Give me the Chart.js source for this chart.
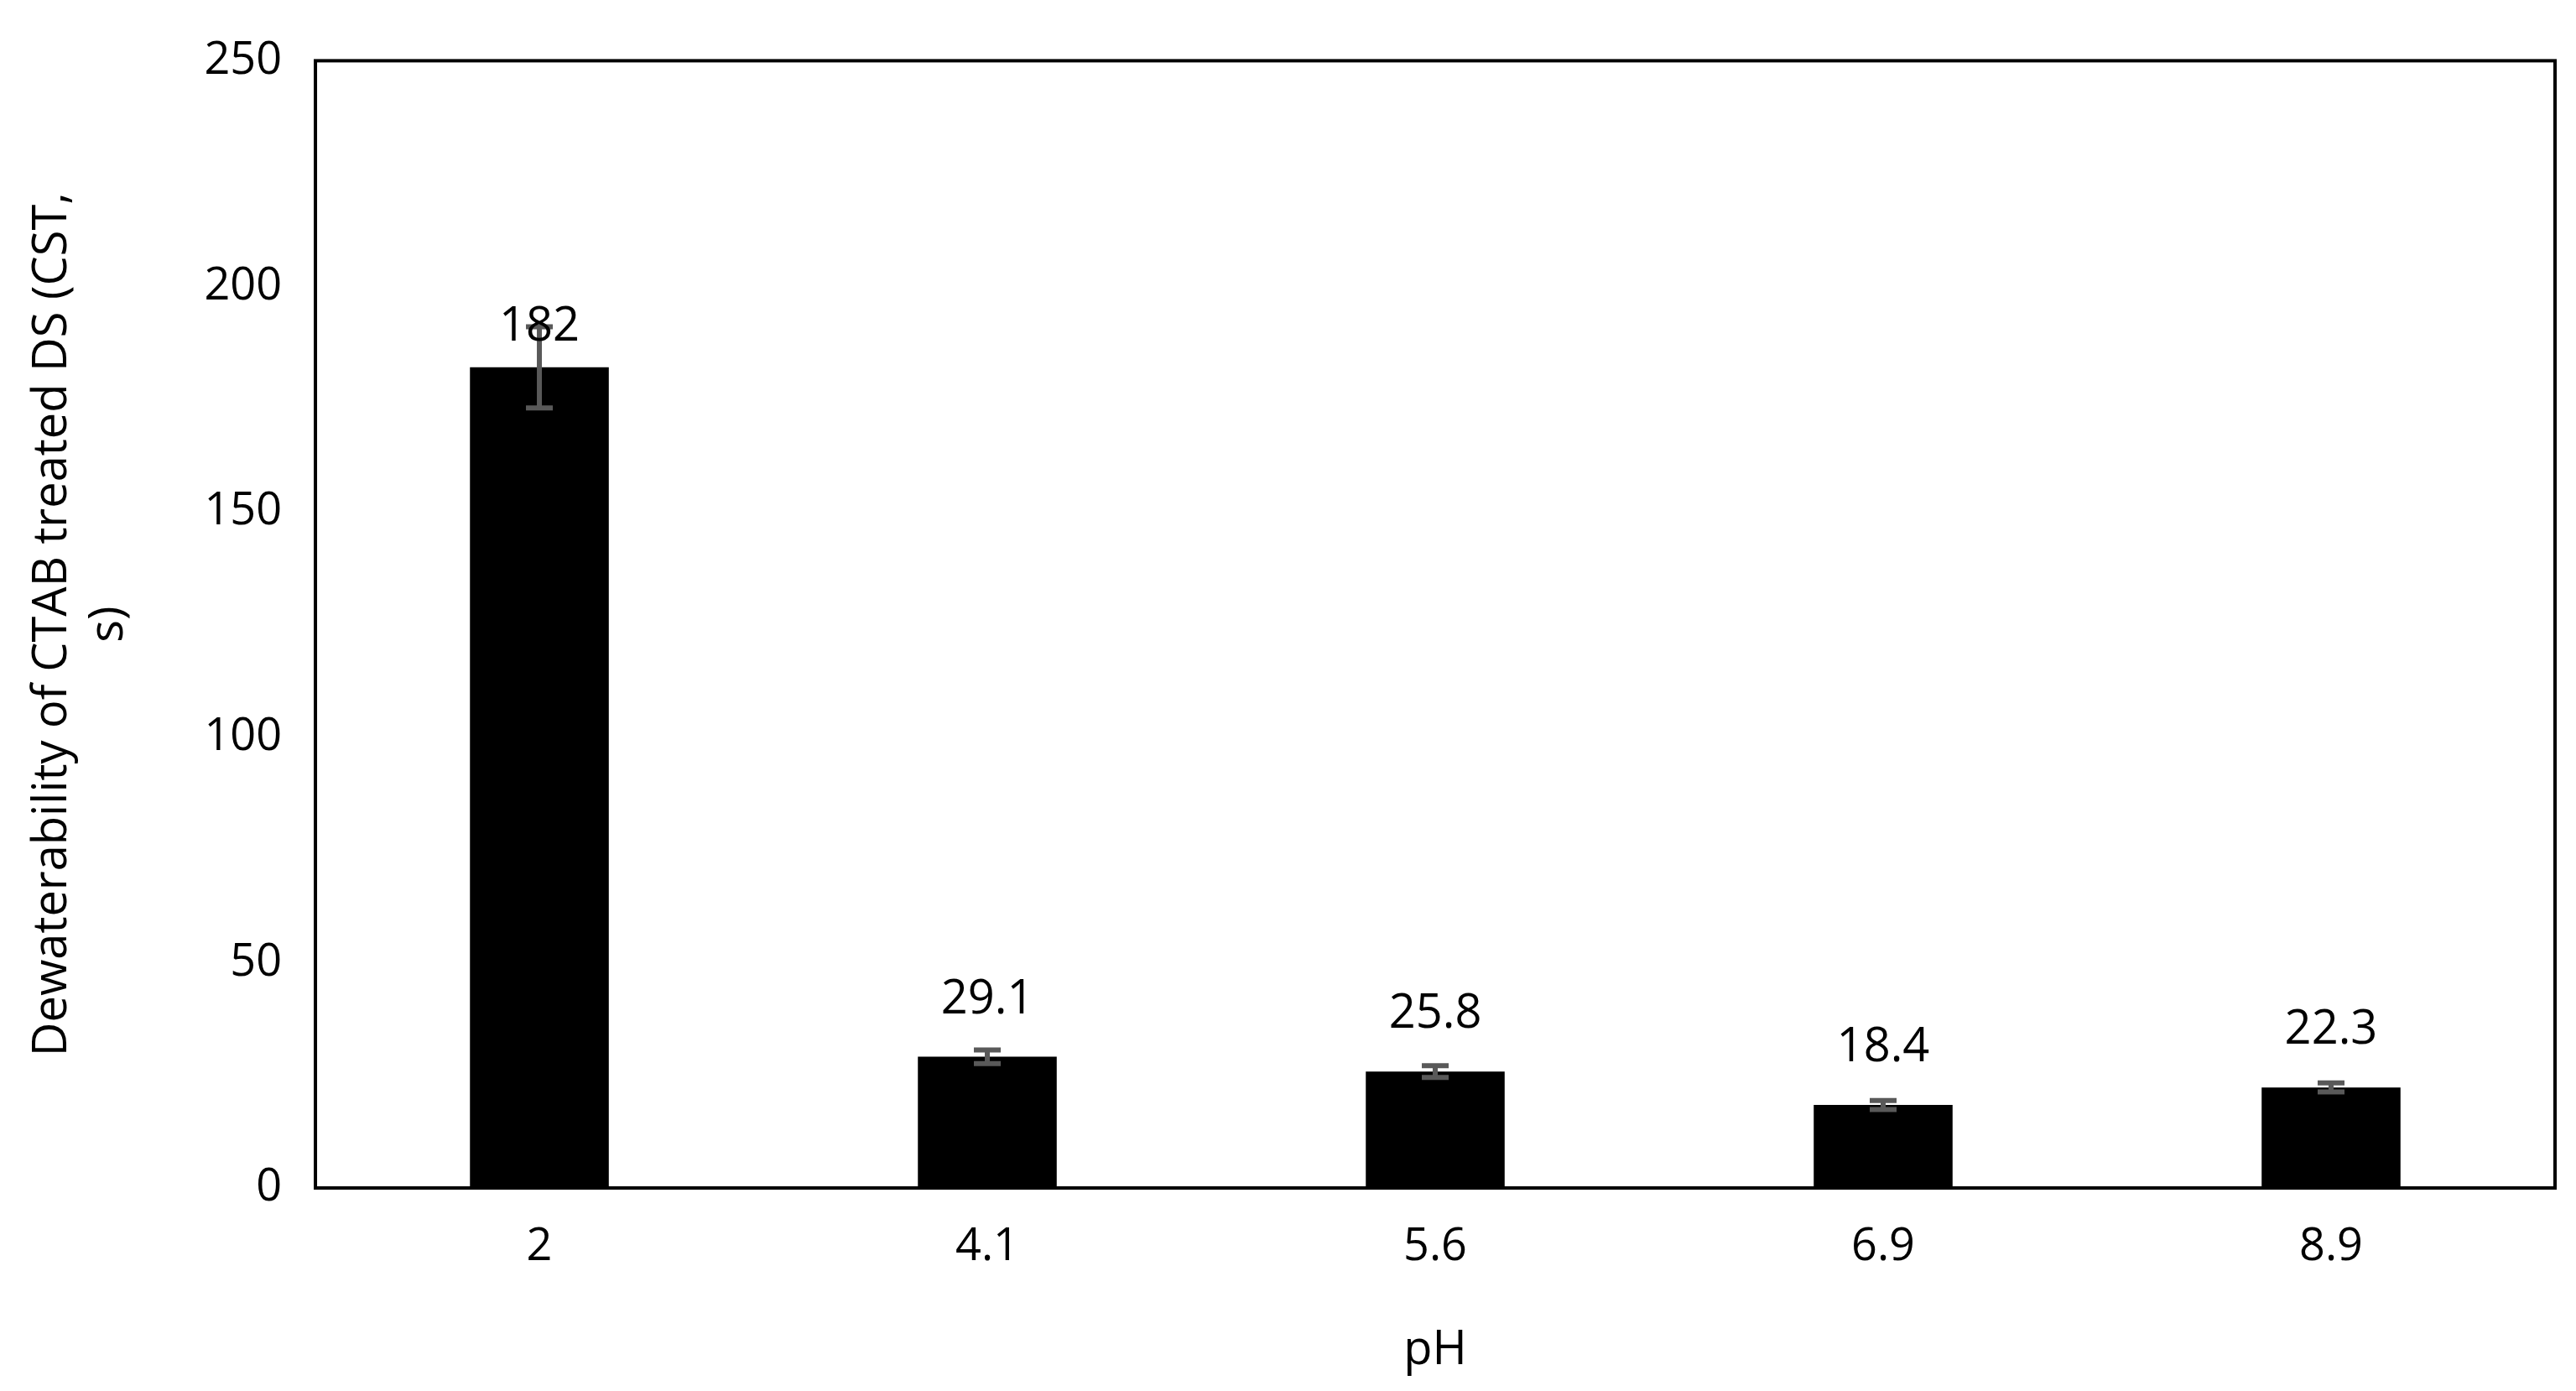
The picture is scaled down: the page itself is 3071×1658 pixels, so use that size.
<!DOCTYPE html>
<html lang="en">
<head>
  <meta charset="UTF-8">
  <title>CST vs pH</title>
  <script src="https://cdn.jsdelivr.net/npm/chart.js"></script>
  <style>
    body { margin: 0; background: #ffffff; }
    #wrap { width: 3071px; height: 1658px; }
  </style>
</head>
<body>
<div id="wrap"><canvas id="chart"></canvas></div>
<script>
  const phLabels = ['2', '4.1', '5.6', '6.9', '8.9'];
  const cstValues = [182, 29.1, 25.8, 18.4, 22.3];
  const cstErrors = [9, 1.5, 1.3, 1.0, 1.0];
  const yTicks = [0, 50, 100, 150, 200, 250];

  const fontFamily = "'Open Sans', 'Liberation Sans', sans-serif";

  // frame around the plot area
  const framePlugin = {
    id: 'frame',
    afterDraw(chart) {
      const a = chart.chartArea, ctx = chart.ctx;
      ctx.save();
      ctx.strokeStyle = '#000';
      ctx.lineWidth = 4;
      ctx.strokeRect(a.left, a.top, a.right - a.left, a.bottom - a.top);
      ctx.restore();
    }
  };

  // error bars and value labels
  const errorPlugin = {
    id: 'errors',
    afterDatasetsDraw(chart) {
      const ctx = chart.ctx, y = chart.scales.y;
      const meta = chart.getDatasetMeta(0);
      ctx.save();
      meta.data.forEach((bar, i) => {
        const v = cstValues[i], e = cstErrors[i];
        const yt = y.getPixelForValue(v + e), yb = y.getPixelForValue(v - e);
        ctx.strokeStyle = '#595959';
        ctx.lineWidth = 6;
        ctx.beginPath();
        ctx.moveTo(bar.x, yt); ctx.lineTo(bar.x, yb);
        ctx.moveTo(bar.x - 16, yt); ctx.lineTo(bar.x + 16, yt);
        ctx.moveTo(bar.x - 16, yb); ctx.lineTo(bar.x + 16, yb);
        ctx.stroke();
        ctx.fillStyle = '#000';
        ctx.font = '56px ' + fontFamily;
        ctx.textAlign = 'center';
        ctx.textBaseline = 'bottom';
        const ly = i === 0 ? y.getPixelForValue(v) - 20 : y.getPixelForValue(v) - 40;
        ctx.fillText(String(v), bar.x, ly);
      });
      ctx.restore();
    }
  };

  new Chart(document.getElementById('chart'), {
    type: 'bar',
    data: {
      labels: phLabels,
      datasets: [{
        data: cstValues,
        backgroundColor: '#000000',
        barPercentage: 0.31,
        categoryPercentage: 1
      }]
    },
    options: {
      responsive: true,
      maintainAspectRatio: false,
      animation: false,
      layout: { padding: { top: 25, right: 25, bottom: 10, left: 25 } },
      plugins: { legend: { display: false }, tooltip: { enabled: false } },
      scales: {
        x: {
          grid: { display: false, drawTicks: false },
          border: { display: false },
          ticks: { color: '#000', font: { size: 54, family: fontFamily }, padding: 38 },
          title: { display: true, text: 'pH', color: '#000', font: { size: 56, family: fontFamily }, padding: { top: 20 } }
        },
        y: {
          min: 0, max: 250,
          afterBuildTicks(scale) { scale.ticks = yTicks.map(v => ({ value: v })); },
          grid: { display: false, drawTicks: false },
          border: { display: false },
          ticks: { color: '#000', font: { size: 54, family: fontFamily }, padding: 40 },
          title: {
            display: true,
            text: ['Dewaterability of CTAB treated DS (CST,', 's)'],
            color: '#000', font: { size: 56, family: fontFamily }, padding: { bottom: 40 }
          }
        }
      }
    },
    plugins: [framePlugin, errorPlugin]
  });
</script>
</body>
</html>
